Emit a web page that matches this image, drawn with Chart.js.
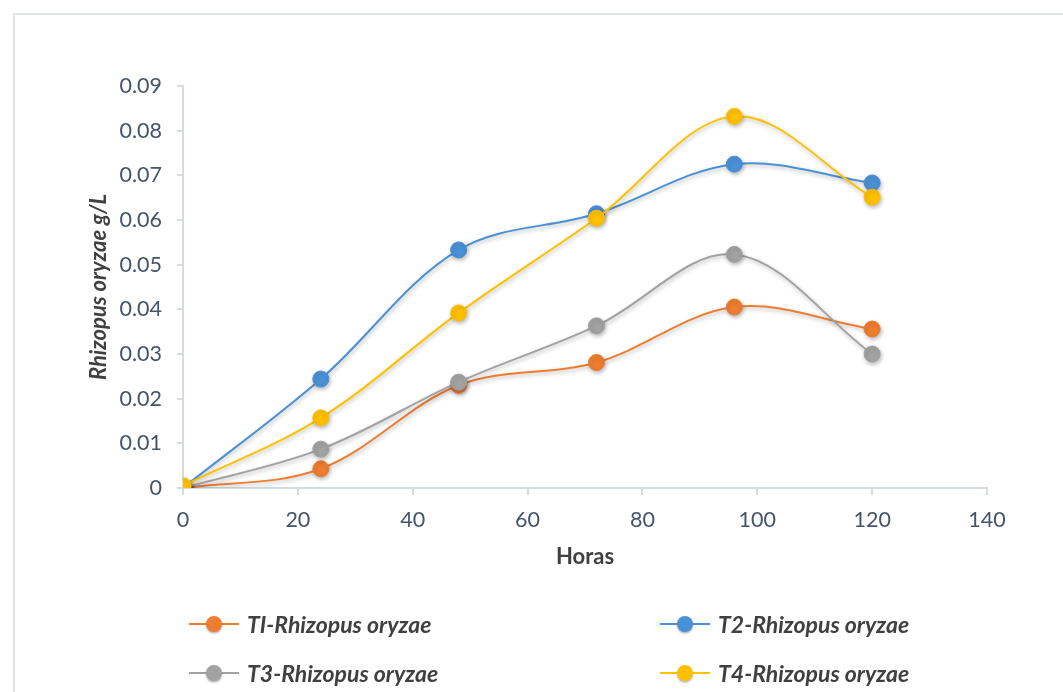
<!DOCTYPE html>
<html>
<head>
<meta charset="utf-8">
<script src="https://cdn.jsdelivr.net/npm/chart.js@4/dist/chart.umd.min.js"></script>
<style>
  html, body { margin: 0; padding: 0; background: #fff; overflow: hidden; }
  #wrap { position: relative; width: 1063px; height: 692px; }
  #frame { position: absolute; left: 13px; top: 13px; width: 1100px; height: 720px;
           border: 2px solid #e1e5ea; box-sizing: border-box; pointer-events: none; }
  #c { position: absolute; left: 0; top: 0; }
  #legend { position: absolute; left: 0; top: 0; width: 1063px; height: 692px; pointer-events: none;
            font-family: Lato, "Open Sans", sans-serif; font-weight: bold; font-style: italic;
            font-size: 23px; color: #404040; }
  .item { position: absolute; height: 26px; display: flex; align-items: center; transform: translateY(-50%); }
  .sw { position: relative; width: 50px; height: 20px; margin-right: 8px; }
  .sw .ln { position: absolute; left: 0; right: 0; top: 9px; height: 2px; }
  .sw .dot { position: absolute; left: 17px; top: 2px; width: 16px; height: 16px; border-radius: 50%;
             box-shadow: 0 1.5px 2px rgba(0,0,0,0.3); }
</style>
</head>
<body>
<div id="wrap">
  <canvas id="c" width="1063" height="692"></canvas>
  <div id="frame"></div>
  <div id="legend"></div>
</div>
<script>
// Sampling times (hours)
const horas = [0, 24, 48, 72, 96, 120];

// Biomass concentration (g/L) for each treatment
const t1 = [0, 0.0043, 0.0230, 0.0281, 0.0405, 0.0356];
const t2 = [0, 0.0244, 0.0533, 0.0614, 0.0725, 0.0683];
const t3 = [0, 0.0087, 0.0237, 0.0363, 0.0523, 0.0300];
const t4 = [0.0005, 0.0157, 0.0392, 0.0604, 0.0832, 0.0651];

const seriesNames = ['TI-Rhizopus oryzae', 'T2-Rhizopus oryzae', 'T3-Rhizopus oryzae', 'T4-Rhizopus oryzae'];
const seriesValues = [t1, t2, t3, t4];
const seriesColors = ['#ED7D31', '#4A90D6', '#A2A2A2', '#FFC000'];
const drawOrder = [4, 3, 2, 1];

const xTicks = [0, 20, 40, 60, 80, 100, 120, 140];
const yTicks = [0, 0.01, 0.02, 0.03, 0.04, 0.05, 0.06, 0.07, 0.08, 0.09];

const datasets = seriesValues.map((vals, i) => ({
  label: seriesNames[i],
  data: vals.map((v, k) => ({ x: horas[k], y: v })),
  borderColor: seriesColors[i],
  backgroundColor: seriesColors[i],
  pointBackgroundColor: seriesColors[i],
  pointBorderColor: seriesColors[i],
  pointRadius: 8,
  pointBorderWidth: 1,
  borderWidth: 2,
  tension: 0.35,
  order: drawOrder[i]
}));

// Soft drop shadow beneath lines and markers
const shadowPlugin = {
  id: 'softShadow',
  beforeDatasetDraw(chart) {
    const ctx = chart.ctx;
    ctx.save();
    ctx.shadowColor = 'rgba(0,0,0,0.28)';
    ctx.shadowBlur = 4;
    ctx.shadowOffsetX = 1;
    ctx.shadowOffsetY = 2;
  },
  afterDatasetDraw(chart) {
    chart.ctx.restore();
  }
};

const fam = 'Lato, "Open Sans", sans-serif';
const tickFont = { family: fam, size: 21.5 };
const axisColor = '#d3dae3';

const chart = new Chart(document.getElementById('c'), {
  type: 'line',
  data: { datasets },
  plugins: [shadowPlugin],
  options: {
    responsive: false,
    animation: false,
    events: [],
    layout: { padding: { left: 0, top: 86, right: 76, bottom: 0 } },
    plugins: { legend: { display: false }, tooltip: { enabled: false } },
    scales: {
      x: {
        type: 'linear',
        min: 0, max: 140,
        afterBuildTicks(scale) { scale.ticks = xTicks.map(v => ({ value: v })); },
        afterFit(scale) { scale.height = 204; },
        border: { color: axisColor, width: 2 },
        grid: { drawOnChartArea: false, drawTicks: true, tickLength: 7, color: axisColor, lineWidth: 2 },
        ticks: { font: tickFont, color: '#44546A', padding: 12, maxRotation: 0 },
        title: { display: true, text: 'Horas', color: '#404040',
                 font: { family: fam, size: 22, weight: 'bold' },
                 padding: { top: 0, bottom: 122 } }
      },
      y: {
        min: 0, max: 0.09,
        afterBuildTicks(scale) { scale.ticks = yTicks.map(v => ({ value: v })); },
        afterFit(scale) { scale.width = 183; },
        border: { color: axisColor, width: 2 },
        grid: { drawOnChartArea: false, drawTicks: true, tickLength: 6, color: axisColor, lineWidth: 2 },
        ticks: { font: tickFont, color: '#44546A', padding: 15,
                 callback: v => (v === 0 ? '0' : v.toFixed(2)) },
        title: { display: true, text: 'Rhizopus oryzae g/L', color: '#404040',
                 font: { family: fam, size: 22, weight: 'bold', style: 'italic' },
                 padding: { top: 86, bottom: 0 } }
      }
    }
  }
});

// Two-column legend built from the chart's datasets
const legendPos = [[189, 624], [660, 624], [189, 673], [660, 673]];
const legendEl = document.getElementById('legend');
chart.data.datasets.forEach((ds, i) => {
  const item = document.createElement('div');
  item.className = 'item';
  item.style.left = legendPos[i][0] + 'px';
  item.style.top = legendPos[i][1] + 'px';
  const sw = document.createElement('span');
  sw.className = 'sw';
  const ln = document.createElement('span');
  ln.className = 'ln';
  ln.style.background = ds.borderColor;
  const dot = document.createElement('span');
  dot.className = 'dot';
  dot.style.background = ds.pointBackgroundColor;
  sw.appendChild(ln);
  sw.appendChild(dot);
  const txt = document.createElement('span');
  txt.textContent = ds.label;
  item.appendChild(sw);
  item.appendChild(txt);
  legendEl.appendChild(item);
});
</script>
</body>
</html>
